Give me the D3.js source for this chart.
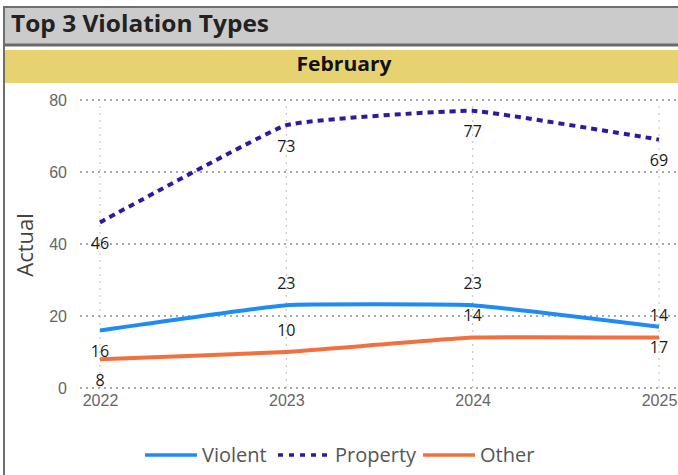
<!DOCTYPE html>
<html>
<head>
<meta charset="utf-8">
<script src="https://cdn.jsdelivr.net/npm/d3@7"></script>
<style>
  html, body { margin: 0; padding: 0; background: #fff; }
  svg { display: block; font-family: "Open Sans", "Noto Sans", sans-serif; }
</style>
</head>
<body>
<div id="chart"></div>
<script>
// data
const years = ['2022', '2023', '2024', '2025'];
const violent = [16, 23, 23, 17];
const property = [46, 73, 77, 69];
const other = [8, 10, 14, 14];
const yTicks = [0, 20, 40, 60, 80];

const series = [
  { name: 'Violent', values: violent, color: '#1f8bf5', dash: null, labelSide: ['below', 'above', 'above', 'below'] },
  { name: 'Property', values: property, color: '#2d1a9c', dash: '6,5', labelSide: ['below', 'below', 'below', 'below'] },
  { name: 'Other', values: other, color: '#f2703f', dash: null, labelSide: ['below', 'above', 'above', 'above'] }
];

const width = 678, height = 475;
const svg = d3.select('#chart').append('svg').attr('width', width).attr('height', height);

// frame and header bars
svg.append('rect').attr('x', 4).attr('y', 7).attr('width', width).attr('height', height)
  .attr('fill', '#fff').attr('stroke', '#6e6e6e').attr('stroke-width', 2);
svg.append('rect').attr('x', 5).attr('y', 8).attr('width', width).attr('height', 36).attr('fill', '#cbcbcb');
svg.append('line').attr('x1', 5).attr('x2', width).attr('y1', 45).attr('y2', 45)
  .attr('stroke', '#6a6a6a').attr('stroke-width', 3);
svg.append('text').attr('x', 11).attr('y', 32)
  .attr('font-size', 24).attr('font-weight', 'bold').attr('fill', '#222')
  .attr('textLength', 258).attr('lengthAdjust', 'spacingAndGlyphs')
  .text('Top 3 Violation Types');

svg.append('rect').attr('x', 5).attr('y', 50).attr('width', width).attr('height', 33).attr('fill', '#e6d271');
svg.append('text').attr('x', 344).attr('y', 71).attr('text-anchor', 'middle')
  .attr('font-size', 20).attr('font-weight', 'bold').attr('fill', '#111')
  .attr('textLength', 95).attr('lengthAdjust', 'spacingAndGlyphs')
  .text('February');

// scales
const x = d3.scalePoint().domain(years).range([100, 659]);
const y = d3.scaleLinear().domain([0, 80]).range([388, 100]);

// grid
svg.append('g').selectAll('line').data(years).join('line')
  .attr('x1', d => x(d)).attr('x2', d => x(d)).attr('y1', y(80) + 6).attr('y2', y(0) + 4)
  .attr('stroke', '#c8c8c8').attr('stroke-width', 1.2).attr('stroke-dasharray', '2,5');
svg.append('g').selectAll('line').data(yTicks).join('line')
  .attr('x1', 80).attr('x2', width).attr('y1', d => y(d)).attr('y2', d => y(d))
  .attr('stroke', '#8c8c8c').attr('stroke-width', 1.5).attr('stroke-dasharray', '2,4');

// axes (text only)
const yAxis = svg.append('g').attr('transform', 'translate(72,0)')
  .call(d3.axisLeft(y).tickValues(yTicks).tickSize(0).tickPadding(5));
yAxis.select('.domain').remove();
yAxis.selectAll('text').attr('font-size', 16).attr('fill', '#666').attr('font-family', 'inherit');

const xAxis = svg.append('g').attr('transform', 'translate(0,392)')
  .call(d3.axisBottom(x).tickSize(0).tickPadding(3));
xAxis.select('.domain').remove();
xAxis.selectAll('text').attr('font-size', 16).attr('fill', '#666').attr('font-family', 'inherit');

svg.append('text').attr('transform', 'translate(33,245) rotate(-90)')
  .attr('text-anchor', 'middle').attr('font-size', 22).attr('fill', '#444')
  .text('Actual');

// lines
const line = d3.line().x((d, i) => x(years[i])).y(d => y(d)).curve(d3.curveCardinal.tension(0.7));
series.forEach(s => {
  svg.append('path').datum(s.values)
    .attr('d', line).attr('fill', 'none')
    .attr('stroke', s.color).attr('stroke-width', 4)
    .attr('stroke-dasharray', s.dash);
});

// data labels
series.forEach(s => {
  svg.append('g').selectAll('text').data(s.values).join('text')
    .attr('x', (d, i) => x(years[i]))
    .attr('y', (d, i) => y(d) + (s.labelSide[i] === 'above' ? -22 : 21))
    .attr('dy', '0.35em').attr('text-anchor', 'middle')
    .attr('font-size', 16).attr('fill', '#1a1a1a')
    .text(d => d);
});

// legend
const legendX = [145, 278, 423];
const legend = svg.append('g').attr('transform', 'translate(0,455)');
series.forEach((s, i) => {
  legend.append('line').attr('x1', legendX[i]).attr('x2', legendX[i] + 52)
    .attr('stroke', s.color).attr('stroke-width', 3.5)
    .attr('stroke-dasharray', s.dash ? '5,6' : null);
  legend.append('text').attr('x', legendX[i] + 57).attr('dy', '0.35em')
    .attr('font-size', 20).attr('fill', '#555')
    .text(s.name);
});
</script>
</body>
</html>
